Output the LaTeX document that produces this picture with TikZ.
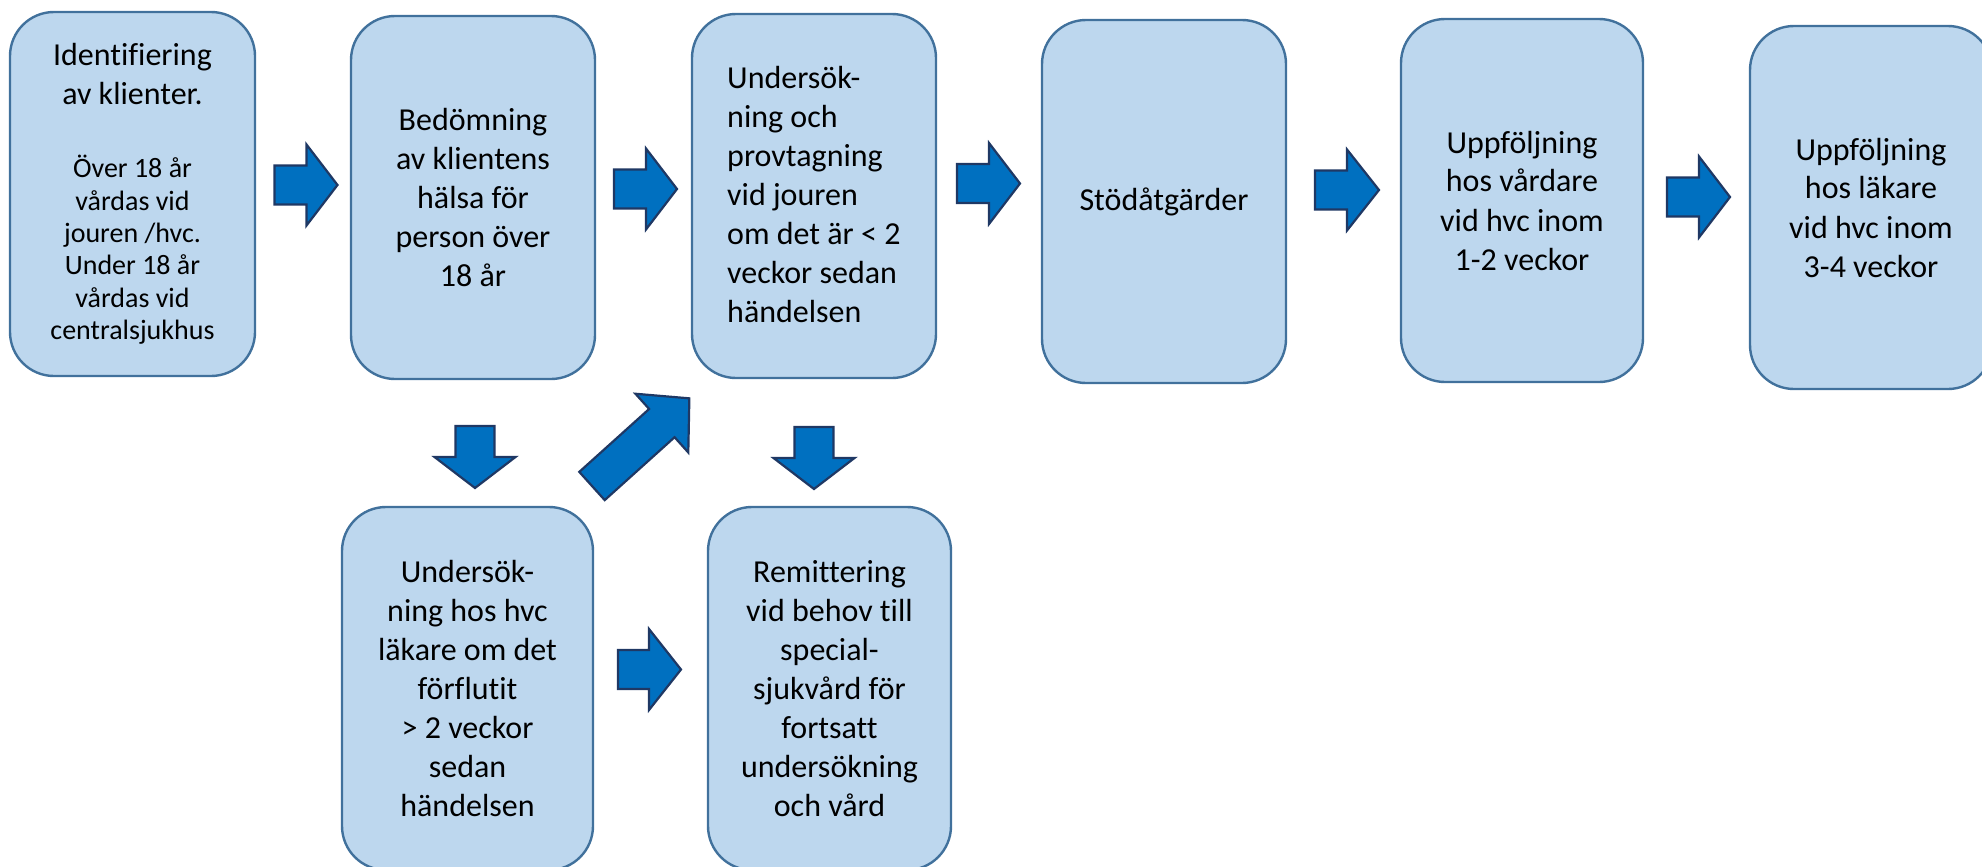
\documentclass[tikz,border=0pt]{standalone}
\usepackage{fontspec}
\setmainfont{Carlito}[Ligatures=NoCommon]
\definecolor{boxfill}{HTML}{BDD7EE}
\definecolor{boxline}{HTML}{41719C}
\definecolor{arrfill}{HTML}{0070C0}
\definecolor{arrline}{HTML}{1F3864}
\tikzset{
  stepbox/.style={draw=boxline, fill=boxfill, line width=2.4pt, rounded corners=44pt,
    inner sep=0pt, align=flush center, text width=225pt, font=\fontsize{32}{39}\selectfont},
  pics/blockarrow/.style args={#1/#2/#3/#4}{code={
    \path[draw=arrline, fill=arrfill, line width=2.2pt, line join=miter]
      (0,-#3) -- (#1-#2,-#3) -- (#1-#2,-#4) -- (#1,0) -- (#1-#2,#4) -- (#1-#2,#3) -- (0,#3) -- cycle;
  }},
}
\begin{document}
\begin{tikzpicture}[x=1pt,y=-1pt]
\clip (0,0) rectangle (1982,867);
% boxes
\node[stepbox, minimum width=245pt, minimum height=364pt] (b1) at (132.5,194)
  {{Identifiering\\av klienter.\par}\vspace{40.6pt}{\fontsize{28}{32.4}\selectfont Över 18 år\\vårdas vid\\jouren /hvc.\\Under 18 år\\vårdas vid\\centralsjukhus\par}};
\node[stepbox, minimum width=244pt, minimum height=363pt] (b2) at (473,197.5)
  {Bedömning\\av klientens\\hälsa för\\person över\\18 år};
\node[stepbox, minimum width=244pt, minimum height=364pt] (b3) at (814,196) {};
\node[font=\fontsize{32}{39}\selectfont, align=left, inner sep=0pt, anchor=west] (t3) at (727,195)
  {Undersök-\\ning och\\provtagning\\vid jouren\\om det är < 2\\veckor sedan\\händelsen};
\node[stepbox, minimum width=244pt, minimum height=363pt] (b4) at (1164,201.5) {Stödåtgärder};
\node[stepbox, minimum width=242pt, minimum height=363pt] (b5) at (1522,200.5)
  {Uppföljning\\hos vårdare\\vid hvc inom\\1-2 veckor};
\node[stepbox, minimum width=242pt, minimum height=363pt] (b6) at (1871,207.5)
  {Uppföljning\\hos läkare\\vid hvc inom\\3-4 veckor};
\node[stepbox, minimum width=251pt, minimum height=363pt] (b7) at (467.5,688.5)
  {Undersök-\\ning hos hvc\\läkare om det\\förflutit\\> 2 veckor\\sedan\\händelsen};
\node[stepbox, minimum width=243pt, minimum height=363pt] (b8) at (829.5,688.5)
  {Remittering\\vid behov till\\special-\\sjukvård för\\fortsatt\\undersökning\\och vård};
% block arrows
\pic (a1) at (274.5,185) {blockarrow={63/31/19.5/40.5}};
\pic (a2) at (614,189) {blockarrow={63/31/19.5/40.5}};
\pic (a3) at (957,183.5) {blockarrow={63/31/19.5/40.5}};
\pic (a4) at (1315,190) {blockarrow={64/32/19.5/40.5}};
\pic (a5) at (1667,197) {blockarrow={63/31/19.5/40.5}};
\pic[rotate=-90] (a6) at (475,426) {blockarrow={62/31/19.5/40.5}};
\pic[rotate=-90] (a7) at (814,427) {blockarrow={62/31/19.5/40.5}};
\pic (a8) at (618,669.5) {blockarrow={63/32/19.5/40.5}};
\pic[rotate=42] (a9) at (592,486) {blockarrow={131/37/19/39.5}};
\end{tikzpicture}
\end{document}
